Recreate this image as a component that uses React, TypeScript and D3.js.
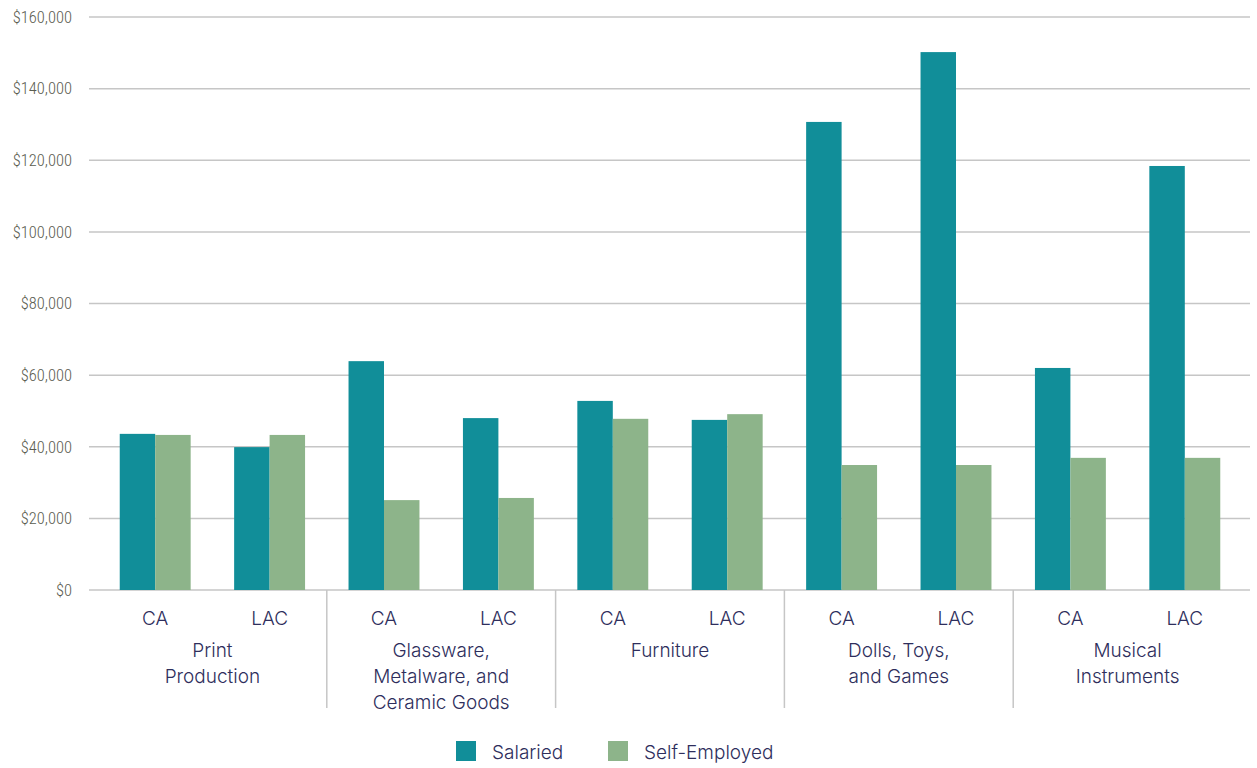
import React from 'react';
import * as d3 from 'd3';

const groups = [
  'Print Production',
  'Glassware, Metalware, and Ceramic Goods',
  'Furniture',
  'Dolls, Toys, and Games',
  'Musical Instruments',
];
const groupLines = [
  ['Print', 'Production'],
  ['Glassware,', 'Metalware, and', 'Ceramic Goods'],
  ['Furniture'],
  ['Dolls, Toys,', 'and Games'],
  ['Musical', 'Instruments'],
];
const regions = ['CA', 'LAC'];
const seriesNames = ['Salaried', 'Self-Employed'];
// one value per group x region, in order CA, LAC
const salaried = [43600, 39900, 63900, 48000, 52800, 47500, 130700, 150200, 62000, 118400];
const selfEmployed = [43300, 43300, 25100, 25700, 47800, 49100, 34900, 34900, 36900, 36900];
const yTicks = [0, 20000, 40000, 60000, 80000, 100000, 120000, 140000, 160000];

const colors = ['#118e99', '#8db48a'];
const W = 1257;
const H = 768;

export default function App() {
  const x0 = d3.scaleBand<string>().domain(groups).range([98, 1242]).padding(0);
  const x1 = d3
    .scaleBand<string>()
    .domain(regions)
    .range([0, x0.bandwidth()])
    .paddingInner(0.38)
    .paddingOuter(0.19);
  const x2 = d3.scaleBand<string>().domain(seriesNames).range([0, x1.bandwidth()]).padding(0);
  const y = d3.scaleLinear().domain([0, 160000]).range([590, 17]);
  const fmt = (v: number) => '$' + d3.format(',')(v);
  const values = [salaried, selfEmployed];

  return (
    <svg width={W} height={H} style={{ position: 'absolute', left: 0, top: 0, background: '#fff' }}>
      {/* gridlines + y labels */}
      {yTicks.map((t) => (
        <g key={t}>
          <line x1={89} x2={1250} y1={y(t)} y2={y(t)} stroke="#c6c6c6" strokeWidth={1.5} />
          <text
            x={72}
            y={y(t)}
            dy="0.35em"
            textAnchor="end"
            fill="#5a5c50"
            fontSize={16.5}
            fontWeight={300}
            fontFamily="'Roboto Condensed', 'Liberation Sans Narrow', Roboto, sans-serif"
          >
            {fmt(t)}
          </text>
        </g>
      ))}

      {/* bars */}
      {groups.map((g, gi) =>
        regions.map((r, ri) =>
          seriesNames.map((s, si) => {
            const v = values[si][gi * 2 + ri];
            return (
              <rect
                key={g + r + s}
                x={x0(g)! + x1(r)! + x2(s)!}
                y={y(v)}
                width={x2.bandwidth()}
                height={y(0) - y(v)}
                fill={colors[si]}
              />
            );
          })
        )
      )}

      {/* separators between groups */}
      {groups.slice(1).map((g) => (
        <line key={g} x1={x0(g)!} x2={x0(g)!} y1={590} y2={708} stroke="#c6c6c6" strokeWidth={1.5} />
      ))}

      {/* region labels */}
      {groups.map((g) =>
        regions.map((r) => (
          <text
            key={g + r}
            x={x0(g)! + x1(r)! + x1.bandwidth() / 2}
            y={618}
            dy="0.35em"
            textAnchor="middle"
            fill="#2e2e5c"
            fontSize={19}
            fontFamily="Inter, Roboto, sans-serif"
            fontWeight={300}
          >
            {r}
          </text>
        ))
      )}

      {/* group labels */}
      {groups.map((g, gi) => (
        <text
          key={g}
          x={x0(g)! + x0.bandwidth() / 2}
          textAnchor="middle"
          fill="#2e2e5c"
          fontSize={19}
          fontFamily="Inter, Roboto, sans-serif"
          fontWeight={300}
        >
          {groupLines[gi].map((line, li) => (
            <tspan key={li} x={x0(g)! + x0.bandwidth() / 2} y={650 + li * 26} dy="0.35em">
              {line}
            </tspan>
          ))}
        </text>
      ))}

      {/* legend */}
      {seriesNames.map((s, i) => {
        const lx = [456, 608][i];
        return (
          <g key={s}>
            <rect x={lx} y={741} width={20} height={20} fill={colors[i]} />
            <text
              x={lx + 36}
              y={752}
              dy="0.35em"
              fill="#2e2e5c"
              fontSize={19}
              fontFamily="Inter, Roboto, sans-serif"
              fontWeight={300}
            >
              {s}
            </text>
          </g>
        );
      })}
    </svg>
  );
}
